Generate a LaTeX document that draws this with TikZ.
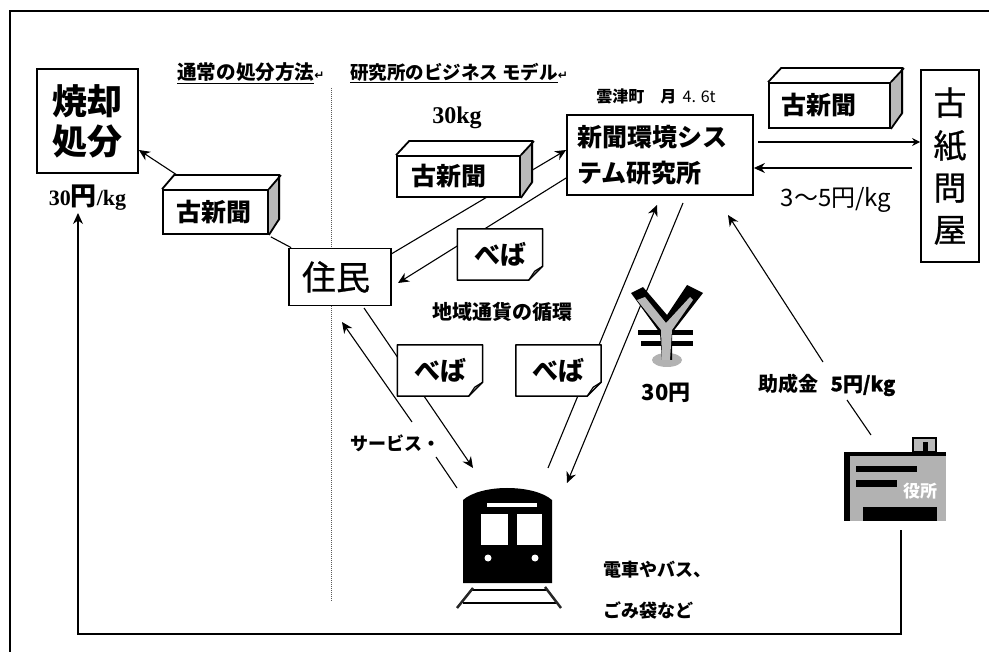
\documentclass[tikz,border=0pt]{standalone}
\usepackage{fontspec}
\usetikzlibrary{arrows.meta,backgrounds,calc}
\setmainfont{Liberation Serif}
\newfontfamily\jp{Noto Sans CJK JP}
\newfontfamily\jpm[FakeBold=0.8]{Noto Sans CJK JP}
\newfontfamily\djfont{DejaVu Sans}
\newcommand{\szz}[1]{\fontsize{#1}{#1}\selectfont}
\newcommand{\retmark}{{\djfont\szz{12}↵}}
\tikzset{
  box/.style={draw=black,line width=1.8pt,fill=white,inner sep=0pt,align=center,font=\jp},
  lbl/.style={inner sep=0pt,font=\jp,text=black},
  conn/.style={draw=black,line width=1.1pt},
  arr/.style={conn,-{Stealth[length=11pt,width=10pt]}},
  hdr/.style={inner sep=0pt,anchor=west,font=\jp\bfseries\szz{18.5}},
  face/.style={draw=black,line width=1.8pt,line join=miter},
  notebox/.style={inner sep=0pt,fill=white,minimum width=85pt,minimum height=51pt,font=\jp\bfseries\szz{26}},
}
% #1 name, #2 centre, #3 width, #4 height, #5 depth x, #6 depth y, #7 font size, #8 text shift
\newcommand{\cuboid}[8]{%
  \fill[white] ($(#2)+(-#3/2,-#4/2)$) -- ++(#5,-#6) -- ++(#3,0) -- ($(#2)+(#3/2,-#4/2)$) -- cycle;
  \fill[gray!55] ($(#2)+(#3/2,-#4/2)$) -- ++(#5,-#6) -- ++(0,#4) -- ($(#2)+(#3/2,#4/2)$) -- cycle;
  \node[box,minimum width=#3pt,minimum height=#4pt,font=\jp\bfseries\szz{#7}] (#1) at (#2) {古新聞\hspace{#8pt}};
  \draw[face] (#1.north west) -- ++(#5,-#6) -- ++(#3,0) -- ++(0,#4) -- (#1.south east);
  \draw[face] (#1.north east) -- ++(#5,-#6);
}
% #1 name, #2 centre
\newcommand{\paper}[2]{%
  \node[notebox] (#1) at (#2) {べば\hspace{14pt}};
  \draw[black,line width=1.5pt,line join=round] (#1.north west) -- (#1.north east) -- ([yshift=14pt]#1.south east) -- ([xshift=-14pt]#1.south east) -- (#1.south west) -- cycle;
  \draw[black,line width=1.2pt] ([yshift=14pt]#1.south east) -- ([xshift=-8pt,yshift=9pt]#1.south east) -- ([xshift=-14pt]#1.south east);
}
\begin{document}
\begin{tikzpicture}[x=1pt,y=-1pt]
\useasboundingbox (0,0) rectangle (989,652);

% boxes
\node[box,minimum width=101pt,minimum height=104pt,font=\jp\bfseries\szz{35},align=center] (burn) at (87.5,121) {焼却\\[5pt]処分};
\node[box,minimum width=102pt,minimum height=57pt,font=\jpm\szz{34}] (jumin) at (340,277) {住民\hspace{8pt}};
\node[box,minimum width=186pt,minimum height=80pt,font=\jp\bfseries\szz{25},align=left,text width=166pt] (lab) at (660,155) {新聞環境シス\\[11pt]テム研究所};
\node[box,minimum width=58pt,minimum height=192pt,font=\jpm\szz{33},align=center] (paperco) at (950,166) {古\\[10pt]紙\\[9pt]問\\[9pt]屋};

% cuboids
\cuboid{oldA}{215.5,212}{105}{44}{12}{14}{25}{4}
\cuboid{oldB}{458.5,176.5}{123}{41}{13}{14}{25}{20}
\cuboid{oldC}{829.5,105.5}{121}{45}{13}{14}{25}{22}

% money notes
\paper{noteA}{500,254.5}
\paper{noteB}{440,370.5}
\paper{noteC}{558.5,370.5}

% labels
\node[hdr,font=\jp\bfseries\szz{19.6}] (hl) at (177,73) {\underline{通常の処分方法}\retmark};
\node[hdr] (hr) at (350,73) {\underline{研究所のビジネス モデル}\retmark};
\node[lbl,font=\jp\bfseries\szz{16}] (town) at (656,96) {雲津町\hspace{1em}月\hspace{.4em}{\jp\mdseries 4. 6t}};
\node[lbl,font=\bfseries\szz{24}] (kg30) at (457,118) {30kg};
\node[lbl,font=\bfseries\szz{22}] (yen30) at (87.5,198) {30{\jp\szz{26}円}/kg};
\node[lbl,font=\jp\szz{24}] (price) at (836,200) {3～5円/kg};
\node[lbl,font=\jp\bfseries\szz{20}] (cycle) at (502,312) {地域通貨の循環};
\node[lbl,font=\jp\bfseries\szz{22}] (yenlab) at (666,393) {30円};
\node[lbl,font=\jp\bfseries\szz{20}] (subsidy) at (827,385) {助成金\hspace{.6em}{\jpm 5円/kg}};
\node[lbl,font=\jp\bfseries\szz{18}] (service) at (395,443) {サービス・};
\node[lbl,font=\jp\bfseries\szz{18},anchor=west] (goods1) at (603,570) {電車やバス、};
\node[lbl,font=\jp\bfseries\szz{18},anchor=west] (goods2) at (603,610) {ごみ袋など};

% yen sign
\node[inner sep=0pt,minimum size=0pt] (yen) at (667,325) {};
\fill[gray!60] (667,360) ellipse [x radius=15pt,y radius=7pt];
\fill[black] (631,293) -- (643,287) -- (667,315) -- (687,285) -- (703,293) -- (672,333) -- (672,360) -- (662,360) -- (660,333) -- cycle;
\fill[black] (638,330) rectangle (693,335);
\fill[black] (641,341) rectangle (693,346);
\fill[gray!55] (637,300) -- (645,297) -- (666,323) -- (690,297) -- (693,300) -- (672,330) -- (670,360) -- (662,360) -- (661,330) -- cycle;

% train
\node[inner sep=0pt,minimum size=0pt] (train) at (507,535) {};
\fill[black] (463,583) -- (463,500) .. controls (472,492) and (490,488) .. (507,488) .. controls (525,488) and (543,492) .. (552,500) -- (552,583) -- cycle;
\fill[white] (481,514) rectangle (508,545);
\fill[white] (517,514) rectangle (542,545);
\fill[white] (487,503) rectangle (537,507);
\fill[white] (488,558) circle (3.5pt);
\fill[white] (535,558) circle (3.5pt);
\draw[black,line width=1.4pt] (472,590) -- (547,590);
\draw[black,line width=1.2pt] (463,603) -- (556,603);
\draw[gray!30!black,line width=2.5pt] (473,588) -- (457,608);
\draw[gray!30!black,line width=2.5pt] (545,587) -- (561,608);

% city office
\node[inner sep=0pt,minimum size=0pt] (office) at (895,486) {};
\draw[black,line width=2.5pt,fill=gray!55] (913,452) rectangle (936,438);
\fill[black] (923,442) rectangle (928,452);
\fill[gray!60] (844,452) rectangle (946,521);
\fill[black] (844,452) rectangle (946,456);
\fill[black] (844,452) rectangle (850,521);
\fill[black] (856,466) rectangle (917,472);
\fill[black] (856,480) rectangle (897,487);
\fill[black] (863,507) rectangle (937,521);
\node[lbl,text=white,font=\jp\bfseries\szz{17}] (yakusho) at (920,491) {役所};

\begin{scope}[on background layer]
  \fill[white] (0,0) rectangle (989,652);
  % frame
  \draw[black,line width=2pt] (10,652) -- (10,11) -- (989,11);
  % divider
  \coordinate (divT) at (331,88);
  \coordinate (divB) at (331,602);
  \draw[gray!70!black,line width=1pt,densely dotted] (divT) -- (divB);
  % connectors
  \draw[arr] ([xshift=15pt,yshift=14pt]oldA.north west) -- ([yshift=-29pt]burn.east);
  \draw[conn] ([xshift=2pt,yshift=-2pt]oldA.south east) -- ([xshift=3pt]jumin.north west);
  \draw[arr] ([yshift=-6pt]jumin.north east) -- ([yshift=5pt]lab.west);
  \coordinate (jArrow) at (398,283);
  \draw[arr] ([yshift=-23pt]lab.west) -- (jArrow);
  \coordinate (tA) at (473,468);
  \coordinate (jStart) at (364,308);
  \draw[arr] (jStart) -- (tA);
  \coordinate (sA) at (412,422);
  \coordinate (sB) at (436,457);
  \coordinate (sC) at (457,488);
  \coordinate (sH) at (342,322);
  \draw[arr] (sA) -- (sH);
  \draw[conn] (sC) -- (sB);
  \coordinate (uS) at (548,468);
  \coordinate (uH) at (657,205);
  \draw[arr] (uS) -- (uH);
  \coordinate (dS) at (683,203);
  \coordinate (dH) at (567,483);
  \draw[arr] (dS) -- (dH);
  \coordinate (pS) at (758,142);
  \coordinate (qS) at (912,168);
  \draw[conn,-{Stealth[length=8pt,width=8pt]}] (pS) -- (pS -| paperco.west);
  \draw[arr] (qS) -- (qS -| lab.east);
  \coordinate (oA) at (823,362);
  \coordinate (oH) at (728,215);
  \coordinate (oB) at (847,400);
  \coordinate (oC) at (871,435);
  \draw[arr] (oA) -- (oH);
  \draw[conn] (oC) -- (oB);
  \coordinate (rS) at (901,530);
  \coordinate (rH) at (78,213);
  \draw[arr] (rS) -- (901,634) -- (78,634) -- (rH);
\end{scope}
\end{tikzpicture}
\end{document}
